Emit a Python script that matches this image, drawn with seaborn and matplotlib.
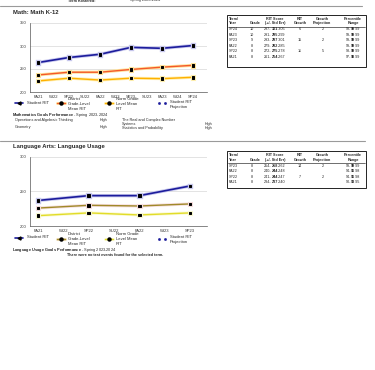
import matplotlib
matplotlib.use("Agg")
import matplotlib.pyplot as plt
import matplotlib.patheffects as pe
from matplotlib.lines import Line2D
import seaborn as sns
import pandas as pd

# Math data
math_terms = ["FA21", "WI22", "SP22", "SU22", "FA22", "WI23", "SP23", "SU23", "FA23", "WI24", "SP24"]
math_tested = ["FA21", "SP22", "FA22", "SP23", "FA23", "SP24"]
math_student = [264, 275, 282, 297, 295, 301]
math_district = [237, 243, 243, 249, 254, 258]
math_norm = [224, 230, 226, 230, 229, 232]

math_tbl_term = ["SP24", "FA23", "SP23", "FA22", "SP22", "FA21"]
math_tbl_grade = ["10", "10", "9", "8", "8", "8"]
math_tbl_low = [297, 291, 293, 279, 272, 261]
math_tbl_rit = [301, 295, 297, 282, 275, 264]
math_tbl_high = [305, 299, 301, 285, 278, 267]
math_tbl_growth = ["6", "", "15", "", "11", ""]
math_tbl_proj = ["2", "", "2", "", "5", ""]
math_tbl_pct = [(99, 99, 99), (99, 99, 99), (99, 99, 99), (99, 99, 99), (98, 99, 99), (97, 98, 99)]

math_goals_left = [("Operations and Algebraic Thinking", "High"), ("Geometry", "High")]
math_goals_right = [("The Real and Complex Number\nSystems", "High"), ("Statistics and Probability", "High")]

# Language data
lang_terms = ["FA21", "WI22", "SP22", "SU22", "FA22", "WI23", "SP23"]
lang_tested = ["FA21", "SP22", "FA22", "SP23"]
lang_student = [237, 244, 244, 258]
lang_district = [226, 230, 229, 232]
lang_norm = [215, 219, 216, 219]

lang_tbl_term = ["SP23", "FA22", "SP22", "FA21"]
lang_tbl_grade = ["8", "8", "8", "8"]
lang_tbl_low = [254, 240, 241, 234]
lang_tbl_rit = [258, 244, 244, 237]
lang_tbl_high = [262, 248, 247, 240]
lang_tbl_growth = ["14", "", "7", ""]
lang_tbl_proj = ["2", "", "2", ""]
lang_tbl_pct = [(99, 99, 99), (94, 96, 98), (94, 96, 98), (90, 93, 95)]

sns.set_style("white")
plt.rcParams["font.family"] = ["Liberation Sans", "DejaVu Sans"]
plt.rcParams["mathtext.fontset"] = "custom"
plt.rcParams["mathtext.rm"] = "Liberation Sans"
plt.rcParams["mathtext.bf"] = "Liberation Sans:bold"

W, H = 375, 370
fig = plt.figure(figsize=(3.75, 3.7), dpi=100)
renderer = fig.canvas.get_renderer()


def fx(x):
    return x / W


def fy(y):
    return 1 - y / H


def ftext(x, y, s, **kw):
    kw.setdefault("fontsize", 3)
    kw.setdefault("va", "center")
    return fig.text(fx(x), fy(y), s, **kw)


def fline(xs, ys, **kw):
    fig.add_artist(Line2D([fx(v) for v in xs], [fy(v) for v in ys], transform=fig.transFigure, **kw))


def triple(x, y, lo, mid, hi, size=2.7):
    # low-<bold mid>-high, centred on the bold number
    t = ftext(x, y, str(mid), fontsize=size, weight="bold", ha="center")
    bb = t.get_window_extent(renderer)
    ftext(bb.x0 - 0.1, y, f"{lo}-", fontsize=size, ha="right")
    ftext(bb.x1 + 0.1, y, f"-{hi}", fontsize=size, ha="left")


def chart(top, bottom, terms, tested, series, ylim, yticks, xlim):
    ax = fig.add_axes([fx(30), fy(bottom), 177 / W, (bottom - top) / H])
    for name, vals, color, glow, lw in series:
        df = pd.DataFrame({"pos": [terms.index(t) for t in tested], "rit": vals})
        sns.lineplot(data=df, x="pos", y="rit", ax=ax, color=color, lw=lw, marker="s",
                     markersize=1.8, markerfacecolor="black", markeredgecolor="black",
                     path_effects=[pe.Stroke(linewidth=lw + 1.2, foreground=glow), pe.Normal()])
    ax.set_xlim(*xlim)
    ax.set_ylim(*ylim)
    ax.set_yticks(yticks)
    ax.set_xticks(range(len(terms)))
    ax.set_xticklabels(terms)
    ax.set_xlabel("")
    ax.set_ylabel("")
    ax.grid(axis="y", color="#d8d8d8", lw=0.5)
    ax.set_axisbelow(True)
    for s in ["top", "right"]:
        ax.spines[s].set_visible(False)
    for s in ["left", "bottom"]:
        ax.spines[s].set_color("#555555")
        ax.spines[s].set_linewidth(0.5)
    ax.tick_params(axis="both", labelsize=3, length=1.5, width=0.4, pad=1, colors="#333333")
    ax.tick_params(axis="x", pad=0.5)
    return ax


def table(top, bottom, terms, grades, low, rit, high, growth, proj, pct):
    fig.add_artist(plt.Rectangle((fx(227), fy(bottom)), 139 / W, (bottom - top) / H, fill=False,
                                 ec="black", lw=0.6, transform=fig.transFigure))
    hy = top + 6.5
    hk = dict(fontsize=2.7, weight="bold", ha="center", linespacing=1.3)
    ftext(229, hy, "Term/\nYear", fontsize=2.7, weight="bold", ha="left", linespacing=1.3)
    ftext(255, hy + 2.5, "Grade", fontsize=2.7, weight="bold", ha="center")
    ftext(275, hy, "RIT Score\n(+/- Std Err)", **hk)
    ftext(300, hy, "RIT\nGrowth", **hk)
    ftext(322, hy, "Growth\nProjection", **hk)
    ftext(353, hy, "Percentile\nRange", **hk)
    fline([228, 365], [top + 12, top + 12], color="black", lw=0.4)
    for i in range(len(terms)):
        y = top + 15 + i * 5.4
        ftext(229, y, terms[i], fontsize=2.7, ha="left")
        ftext(252, y, grades[i], fontsize=2.7, ha="center")
        triple(275, y, low[i], rit[i], high[i])
        ftext(300, y, growth[i], fontsize=2.7, ha="center")
        ftext(323, y, proj[i], fontsize=2.7, ha="center")
        p = pct[i]
        triple(353, y, p[0], p[1], p[2])


def legend(y, dist_color, dist_glow, norm_color, norm_glow):
    fline([15, 23], [y, y], color="#1c1c9c", lw=1.2)
    fline([19], [y], marker="<", color="black", ms=2.2, lw=0)
    ftext(27, y, "Student RIT")
    fline([57, 65], [y + 1, y + 1], color=dist_color, lw=1.0,
          path_effects=[pe.Stroke(linewidth=2.2, foreground=dist_glow), pe.Normal()])
    fline([61], [y + 1], marker="o", color="black", ms=2.2, lw=0)
    ftext(68, y + 1.6, "District\nGrade-Level\nMean RIT", linespacing=1.25)
    fline([105, 113], [y + 1, y + 1], color=norm_color, lw=1.0,
          path_effects=[pe.Stroke(linewidth=2.2, foreground=norm_glow), pe.Normal()])
    fline([109], [y + 1], marker="o", color="black", ms=2.2, lw=0)
    ftext(116, y + 1.6, "Norm Grade\nLevel Mean\nRIT", linespacing=1.25)
    fline([159, 165], [y + 1, y + 1], color="#1c1c9c", lw=0, marker="s", ms=0.9)
    ftext(170, y + 2.3, "Student RIT\nProjection", linespacing=1.3)


# header strip
ftext(95, 0.5, "Term Rostered:", weight="bold", ha="right", fontsize=2.7)
ftext(130, 0.5, "Spring 2023-2024", ha="left", fontsize=2.7)
fline([0, 362], [6, 6], color="#9a9a9a", lw=0.8)

# Math section
ftext(13, 12, "Math: Math K-12", fontsize=4.2, weight="bold")
chart(23, 92, math_terms, math_tested,
      [("Norm", math_norm, "#ffb000", "#fff0b0", 1.0),
       ("District", math_district, "#f4582a", "#ffe39a", 1.0),
       ("Student", math_student, "#1c1c9c", "#c8c8ee", 1.2)],
      (200, 350), [200, 250, 300, 350], (-0.516, 10.9))
table(14.5, 67, math_tbl_term, math_tbl_grade, math_tbl_low, math_tbl_rit, math_tbl_high,
      math_tbl_growth, math_tbl_proj, math_tbl_pct)
legend(102.5, "#f4582a", "#ffe39a", "#ffb000", "#fff0b0")
ftext(12, 115, "$\\bf{Mathematics\\ Goals\\ Performance}$ - Spring 2023-2024", fontsize=2.8)
for i, (g, lvl) in enumerate(math_goals_left):
    ftext(15, 120.5 + i * 6.5, g, fontsize=2.7)
    ftext(100, 120.5 + i * 6.5, lvl, fontsize=2.7)
ftext(122, 122, math_goals_right[0][0], fontsize=2.7, linespacing=1.2)
ftext(205, 124.3, math_goals_right[0][1], fontsize=2.7)
ftext(122, 128.5, math_goals_right[1][0], fontsize=2.7)
ftext(205, 128.5, math_goals_right[1][1], fontsize=2.7)

# Language section
fline([0, 365], [141, 141], color="#9a9a9a", lw=0.8)
ftext(13, 147, "Language Arts: Language Usage", fontsize=4.2, weight="bold")
chart(157, 226, lang_terms, lang_tested,
      [("Norm", lang_norm, "#e2dc2a", "#fafad2", 1.0),
       ("District", lang_district, "#a08a2a", "#f7dede", 1.0),
       ("Student", lang_student, "#1c1c9c", "#c8c8ee", 1.2)],
      (200, 300), [200, 250, 300], (-0.316, 6.67))
table(151, 188, lang_tbl_term, lang_tbl_grade, lang_tbl_low, lang_tbl_rit, lang_tbl_high,
      lang_tbl_growth, lang_tbl_proj, lang_tbl_pct)
legend(237.5, "#a08a2a", "#f0e0c0", "#e2dc2a", "#fafad2")
ftext(12, 249.5, "$\\bf{Language\\ Usage\\ Goals\\ Performance}$ - Spring 2023-2024", fontsize=2.8)
ftext(115, 255, "There were no test events found for the selected term.", fontsize=2.7,
      weight="bold", ha="center")

fig.savefig("out.png", dpi=100)
